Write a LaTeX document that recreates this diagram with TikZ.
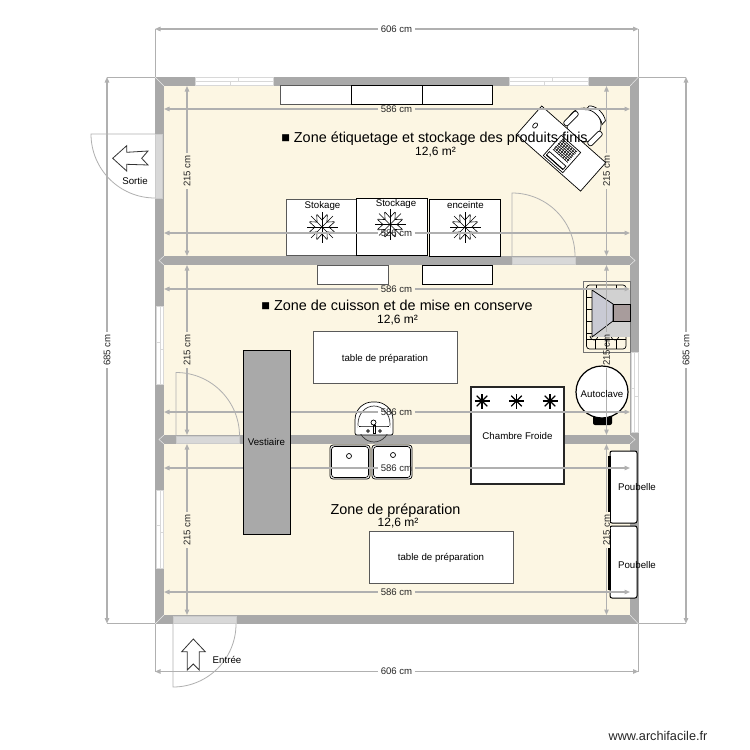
\documentclass[tikz,border=0pt]{standalone}
\usepackage{fontspec}
\setmainfont{Liberation Sans}
\usetikzlibrary{arrows.meta}
\definecolor{wallc}{HTML}{A9A9A9}
\definecolor{roomc}{HTML}{FCF6E3}
\definecolor{dimc}{HTML}{B0B0B0}
\definecolor{doorc}{HTML}{D8D8D8}
\definecolor{conec}{HTML}{C9CAD4}
\definecolor{neckc}{HTML}{A89C9C}
\tikzset{
  winbox/.style={fill=white,draw=doorc,line width=.6pt},
  jamb/.style={fill=doorc,draw=wallc!60,line width=.5pt},
  leaf/.style={draw=dimc,line width=.8pt},
  dimstart/.style={draw=dimc,line width=1.2pt,{Triangle[length=5.5pt,width=4.5pt]}-},
  dimend/.style={draw=dimc,line width=1.2pt,-{Triangle[length=5.5pt,width=4.5pt]}},
  extline/.style={draw=dimc,line width=.7pt},
  dimlabel/.style={font=\fontsize{9.6}{10}\selectfont,text=black!85,inner xsep=2.5pt,inner ysep=.5pt},
  furn/.style={fill=white,draw=black,line width=1pt},
  furngrey/.style={fill=white,draw=black!65,line width=1pt},
  small/.style={font=\fontsize{9.7}{10}\selectfont,text=black,inner sep=0pt},
  zone/.style={font=\fontsize{14.4}{15}\selectfont,text=black,inner sep=0pt},
  area/.style={font=\fontsize{12}{13}\selectfont,text=black,inner sep=0pt},
  fine/.style={draw=black,line width=.7pt}
}
\newcommand{\dimH}[7]{% name,y,x1,x2,labelx,text,fill
  \coordinate (#1a) at (#3,#2); \coordinate (#1b) at (#4,#2);
  \node[dimlabel,fill=#7] (#1) at (#5,#2) {#6};
  \draw[dimstart] (#1a) -- (#1.west);
  \draw[dimend] (#1.east) -- (#1b);}
\newcommand{\dimV}[7]{% name,x,y1,y2,labely,text,fill
  \coordinate (#1a) at (#2,#3); \coordinate (#1b) at (#2,#4);
  \node[dimlabel,fill=#7,rotate=90] (#1) at (#2,#5) {#6};
  \draw[dimstart] (#1a) -- (#1.east);
  \draw[dimend] (#1.west) -- (#1b);}
\newcommand{\flake}[2]{%
  \begin{scope}[shift={(#1,#2)}]
    \foreach \a in {0,45,...,315}{
      \begin{scope}[rotate=\a]
        \draw[draw=black,line width=.6pt] (0,0) -- (15.5,0);
        \draw[draw=black,line width=.6pt] (12.5,-5) -- (7,0) -- (12.5,5);
      \end{scope}}
  \end{scope}}
\newcommand{\coldstar}[2]{%
  \begin{scope}[shift={(#1,#2)}]
    \foreach \a in {0,45,90,135}{
      \begin{scope}[rotate=\a]
        \draw[draw=black,line width=1.1pt] (-7.5,0) -- (7.5,0);
      \end{scope}}
  \end{scope}}
\begin{document}
\begin{tikzpicture}[x=1pt,y=-1pt]
\useasboundingbox (0,0) rectangle (750,750);
\fill[white] (0,0) rectangle (750,750);
% rooms and walls
\fill[wallc] (155,77) rectangle (638.5,624);
\fill[roomc] (164,86) rectangle (630,256);
\fill[roomc] (164,265) rectangle (630,435);
\fill[roomc] (164,444) rectangle (630,615);
\draw[white!75!wallc,line width=.5pt] (155,77) -- (164,86) (638.5,77) -- (630,86) (155,624) -- (164,615) (638.5,624) -- (630,615);
\draw[white!75!wallc,line width=.5pt] (164,256) -- (159,260.5) -- (164,265) (164,435) -- (159,439.5) -- (164,444) (630,256) -- (635,260.5) -- (630,265) (630,435) -- (635,439.5) -- (630,444);
% windows
\draw[winbox] (195,77.5) rectangle (238,81); \draw[winbox] (238,77.5) rectangle (273,81);
\draw[winbox] (195,81) rectangle (230,85); \draw[winbox] (230,81) rectangle (273,85);
\draw[winbox] (509,77.5) rectangle (552,81); \draw[winbox] (552,77.5) rectangle (588,81);
\draw[winbox] (509,81) rectangle (544,85); \draw[winbox] (544,81) rectangle (588,85);
\draw[winbox] (156,306) rectangle (160,342); \draw[winbox] (156,342) rectangle (160,384);
\draw[winbox] (160,306) rectangle (163,349); \draw[winbox] (160,349) rectangle (163,384);
\draw[winbox] (156,490) rectangle (160,525); \draw[winbox] (156,525) rectangle (160,568);
\draw[winbox] (160,490) rectangle (163,532); \draw[winbox] (160,532) rectangle (163,568);
\draw[winbox] (631,352) rectangle (634.5,388); \draw[winbox] (631,388) rectangle (634.5,432);
\draw[winbox] (634.5,352) rectangle (638,396); \draw[winbox] (634.5,396) rectangle (638,432);
% doors
\draw[jamb] (155.5,134) rectangle (162,198);
\draw[jamb] (512,257) rectangle (575,264);
\draw[jamb] (176,436.5) rectangle (239,443);
\draw[jamb] (173,616.5) rectangle (236,623);
\draw[leaf] (155,134) -- (91,134) arc[start angle=180,end angle=270,radius=64pt];
\draw[leaf] (512,256) -- (512,193) arc[start angle=90,end angle=0,radius=63pt];
\draw[leaf] (176,436) -- (176,372.5) arc[start angle=90,end angle=0,radius=63.5pt];
\draw[leaf] (173,624) -- (173,687) arc[start angle=270,end angle=360,radius=63pt];
% exit / entry arrows
\draw[draw=black!80,fill=white,line width=.8pt] (112.7,158.3) -- (126.7,145.7) -- (126.7,152.3) -- (148,151) -- (141.7,158.3) -- (148,165) -- (126.7,164.3) -- (126.7,171) -- cycle;
\draw[draw=black!80,fill=white,line width=.8pt] (193.3,639) -- (181.7,651.7) -- (187.3,651.7) -- (187.3,670) -- (193.3,664) -- (199.3,670) -- (199.3,651.7) -- (205.3,651.7) -- cycle;
\node[small] (sortie) at (135,181.5) {Sortie};
\node[small] (entree) at (227,660) {Entrée};
% counters
\draw[furngrey] (280,85.5) rectangle (351,104.5);
\draw[furn] (351,85.5) rectangle (422,104.5);
\draw[furn] (422,85.5) rectangle (492.5,104.5);
\draw[furngrey] (317,265.5) rectangle (388,284.5);
\draw[furn] (422.5,265.5) rectangle (492.5,284.5);
% freezers
\draw[furngrey] (286.5,199.5) rectangle (356.5,255.5);
\draw[furn] (356.5,198) rectangle (427.5,255);
\draw[furn] (429,199.5) rectangle (500.5,256);
\flake{322}{227}\flake{390}{224.5}\flake{465}{227}
% desk and chair
\begin{scope}[shift={(584,125)}]
  \draw[fine,fill=white] (0,0) circle[radius=17pt];
\end{scope}
\begin{scope}[shift={(594.5,115)},rotate=-42]
  \draw[fine,fill=white] (-10,-3) .. controls (-6,-8) and (6,-8) .. (12,-3) -- (12,2) .. controls (6,-3) and (-6,-3) .. (-10,2) -- cycle;
\end{scope}
\begin{scope}[shift={(571,118.5)},rotate=-135]
  \draw[fine,fill=white,rounded corners=2.5pt] (-9,-2.8) rectangle (9,2.8);
\end{scope}
\begin{scope}[shift={(595,138.5)},rotate=-135]
  \draw[fine,fill=white,rounded corners=2.5pt] (-9,-2.8) rectangle (9,2.8);
\end{scope}
\begin{scope}[shift={(541.7,106)},rotate=-41.5]
  \draw[fine,fill=white] (0,0) rectangle (85.5,38);
  \draw[fine] (8,19) ellipse[x radius=2pt,y radius=3pt];
  \draw[fine,fill=white] (34,9) rectangle (60,36);
  \draw[black,line width=1pt] (36,33.5) -- (58,33.5);
  \draw[fine] (36,29) rectangle (58,33.5);
  \foreach \u in {38,40.5,...,56}{\draw[black,line width=.5pt] (\u,11) -- (\u,25);}
  \foreach \v in {11,13,...,25}{\draw[black,line width=.5pt] (37,\v) -- (57,\v);}
\end{scope}
% tables
\draw[furngrey] (313,331) rectangle (457,383);
\draw[furngrey] (369,531) rectangle (513,583);
% basin and sinks
\draw[fine,fill=white,rounded corners=2pt] (355,435) -- (355,422) .. controls (355,408) and (365,402) .. (374,402) .. controls (383,402) and (393,408) .. (393,422) -- (393,435) -- cycle;
\draw[fine,draw=black!80] (374,424) ellipse[x radius=16pt,y radius=18pt];
\fill[white] (358,426) rectangle (390,434);
\draw[fine] (359,426) .. controls (364,426) and (384,426) .. (389,426);
\draw[fine] (373,433) rectangle (375.5,425); \draw[fine] (373.5,422.5) circle[radius=2.5pt];
\draw[fine] (368,431) circle[radius=1.3pt] (380,431) circle[radius=1.3pt];
\foreach \sx/\cx/\cy in {330/349/456,372/393/455}{
  \draw[fine,fill=white,rounded corners=3pt] (\sx,445) rectangle ++(40,34);
  \draw[fine,rounded corners=3pt] (\sx+1.5,446.5) rectangle ++(37,31);
  \draw[fine] (\cx,\cy) circle[radius=2.5pt];
}
% chambre froide
\draw[fill=white,draw=black!85,line width=1.3pt] (471,387) rectangle (564,484);
\coldstar{482}{401}\coldstar{516.5}{401}\coldstar{550}{401}
\node[small] (cf) at (517.5,436) {Chambre Froide};
% autoclave
\fill[black,rounded corners=2pt] (593,414) rectangle (612,425);
\draw[fill=white,draw=black,line width=1.2pt] (602,392) circle[radius=26pt];
% stove
\draw[fill=roomc,draw=black!55,line width=.7pt] (583,281) rectangle (630,352);
\draw[fine,rounded corners=3pt] (586.5,285) rectangle (626,349);
\foreach \y in {297,309,321,333}{\draw[fine] (586.5,\y) -- (592,\y);}
\draw[fine] (586.5,339) -- (626,339);
\draw[fine] (596,285) -- (596,290) (616,285) -- (616,290);
\foreach \x in {595,606,616}{\draw[fine] (\x,339) -- (\x,349);}
\draw[fine] (590,336) arc[start angle=180,end angle=360,radius=4pt];
\draw[fine] (611,336) arc[start angle=180,end angle=360,radius=4pt];
\fill[black!18] (592,290) rectangle (630,337);
\draw[fill=conec,draw=black,line width=.7pt] (592,290) -- (613,304) -- (613,321) -- (592,337) -- cycle;
\draw[fill=neckc,draw=black,line width=.7pt] (613,304) rectangle (630,321);
% poubelles
\draw[furn,rounded corners=2pt] (610,451) rectangle (637,523);
\draw[furn,rounded corners=2pt] (610,526) rectangle (637,598);
\draw[black,line width=2.5pt] (609.5,456) -- (609.5,521);
\draw[black,line width=2.5pt] (609.5,529) -- (609.5,590);
% dimension extension lines
\draw[extline] (155,29) -- (155,77) (638.5,29) -- (638.5,77);
\draw[extline] (155,624) -- (155,671.5) (638.5,624) -- (638.5,671.5);
\draw[extline] (107,77) -- (155,77) (107,623.5) -- (155,623.5);
\draw[extline] (638.5,77) -- (686,77) (638.5,623.5) -- (686,623.5);
% dimensions
\dimH{dt}{29}{155}{638.5}{396.5}{606 cm}{none}
\dimH{db}{671.5}{155}{638.5}{396.5}{606 cm}{none}
\dimV{dl}{107}{77}{623.5}{350}{685 cm}{none}
\dimV{dr}{686}{77}{623.5}{350}{685 cm}{none}
\dimH{aa}{109}{164}{630}{396.5}{586 cm}{none}
\dimH{ab}{233}{164}{630}{396.5}{586 cm}{none}
\dimH{ba}{289}{164}{630}{396.5}{586 cm}{none}
\dimH{bb}{412}{164}{630}{396.5}{586 cm}{none}
\dimH{ca}{468}{164}{630}{396.5}{586 cm}{none}
\dimH{cb}{592}{164}{630}{396.5}{586 cm}{none}
\dimV{va}{187}{86}{256}{171}{215 cm}{none}
\dimV{vb}{187}{265}{435}{350}{215 cm}{none}
\dimV{vc}{187}{444}{615}{530}{215 cm}{none}
\dimV{wa}{606.5}{86}{256}{171}{215 cm}{none}
\dimV{wb}{606.5}{265}{435}{350}{215 cm}{none}
\dimV{wc}{606.5}{444}{615}{530}{215 cm}{roomc}
% vestiaire
\draw[fill=wallc,draw=black,line width=1pt] (243,350.5) rectangle (290,534.5);
% labels
\node[small] (vest) at (266.5,442) {Vestiaire};
\node[small] (sa) at (322.5,206) {Stokage};
\node[small] (sb) at (396,204) {Stockage};
\node[small] (sc) at (465.5,205.5) {enceinte};
\node[small] (ta) at (385,358.5) {table de préparation};
\node[small] (tb) at (441,557.5) {table de préparation};
\node[small] (auto) at (602,394) {Autoclave};
\node[small] (pa) at (637,487) {Poubelle};
\node[small] (pb) at (637,565) {Poubelle};
\node[zone] (za) at (434.5,139) {■ Zone étiquetage et stockage des produits finis};
\node[area] (zaa) at (435.5,152.5) {12,6 m²};
\node[zone] (zb) at (397,305) {■ Zone de cuisson et de mise en conserve};
\node[area] (zba) at (397.5,320) {12,6 m²};
\node[zone] (zc) at (395.5,511) {Zone de préparation};
\node[area] (zca) at (398,523.5) {12,6 m²};
\node[font=\fontsize{12.7}{13}\selectfont,text=black!85,inner sep=0pt] (wm) at (658,736) {www.archifacile.fr};
\end{tikzpicture}
\end{document}
